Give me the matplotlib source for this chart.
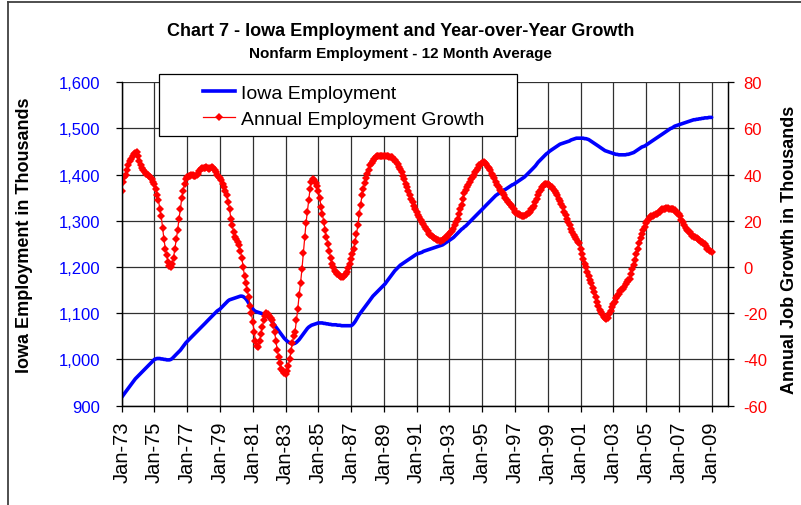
import matplotlib
matplotlib.use("Agg")
import matplotlib.pyplot as plt
import matplotlib.ticker as mticker
from matplotlib.lines import Line2D
from matplotlib.patches import Rectangle
import pandas as pd

plt.rcParams["font.family"] = ["Liberation Sans", "DejaVu Sans"]
plt.rcParams["axes.unicode_minus"] = False

# monthly, Jan-73 .. Jan-09, 12 month average, thousands
employment = [
    918, 922, 926, 930, 934, 938, 942, 946, 950, 954, 958, 961,          # 1973
    964, 967, 970, 973, 976, 979, 982, 985, 988, 991, 994, 997,          # 1974
    1000, 1001, 1002, 1002, 1002, 1001, 1001, 1000, 1000, 999, 999, 999,  # 1975
    1000, 1002, 1005, 1008, 1011, 1014, 1017, 1020, 1024, 1028, 1032, 1036,  # 1976
    1039, 1042, 1045, 1048, 1051, 1054, 1057, 1060, 1063, 1066, 1069, 1072,  # 1977
    1075, 1078, 1081, 1084, 1087, 1090, 1093, 1096, 1099, 1102, 1105, 1107,  # 1978
    1109, 1112, 1115, 1118, 1121, 1124, 1127, 1129, 1130, 1131, 1132, 1133,  # 1979
    1134, 1135, 1136, 1137, 1137, 1136, 1134, 1131, 1127, 1122, 1117, 1113,  # 1980
    1109, 1106, 1104, 1103, 1102, 1101, 1100, 1099, 1098, 1097, 1095, 1093,  # 1981
    1090, 1086, 1082, 1078, 1074, 1070, 1066, 1062, 1058, 1054, 1050, 1046,  # 1982
    1043, 1040, 1038, 1036, 1035, 1034, 1034, 1035, 1037, 1040, 1043, 1047,  # 1983
    1051, 1055, 1059, 1063, 1067, 1070, 1072, 1074, 1075, 1076, 1077, 1078,  # 1984
    1079, 1079, 1079, 1079, 1078, 1078, 1077, 1077, 1076, 1076, 1075, 1075,  # 1985
    1075, 1075, 1074, 1074, 1074, 1073, 1073, 1073, 1073, 1073, 1073, 1073,  # 1986
    1073, 1075, 1078, 1082, 1087, 1092, 1097, 1101, 1105, 1109, 1113, 1117,  # 1987
    1121, 1125, 1129, 1133, 1137, 1140, 1143, 1146, 1149, 1152, 1155, 1158,  # 1988
    1161, 1164, 1168, 1172, 1176, 1180, 1184, 1188, 1192, 1195, 1198, 1201,  # 1989
    1204, 1206, 1208, 1210, 1212, 1214, 1216, 1218, 1220, 1222, 1224, 1226,  # 1990
    1228, 1229, 1230, 1231, 1232, 1234, 1235, 1236, 1237, 1238, 1239, 1240,  # 1991
    1241, 1242, 1243, 1244, 1245, 1246, 1247, 1248, 1250, 1252, 1254, 1256,  # 1992
    1258, 1260, 1262, 1264, 1267, 1270, 1273, 1276, 1279, 1282, 1284, 1287,  # 1993
    1289, 1292, 1295, 1298, 1301, 1304, 1307, 1310, 1313, 1316, 1319, 1322,  # 1994
    1325, 1328, 1331, 1334, 1337, 1340, 1343, 1346, 1349, 1352, 1355, 1357,  # 1995
    1359, 1361, 1363, 1365, 1367, 1368, 1370, 1372, 1374, 1376, 1378, 1379,  # 1996
    1381, 1383, 1385, 1387, 1389, 1391, 1393, 1395, 1398, 1401, 1404, 1407,  # 1997
    1410, 1413, 1416, 1419, 1423, 1427, 1430, 1433, 1436, 1439, 1442, 1445,  # 1998
    1447, 1450, 1452, 1454, 1456, 1458, 1460, 1462, 1464, 1466, 1467, 1468,  # 1999
    1469, 1470, 1471, 1472, 1473, 1475, 1476, 1477, 1478, 1479, 1479, 1479,  # 2000
    1479, 1479, 1479, 1478, 1478, 1477, 1476, 1474, 1472, 1470, 1468, 1466,  # 2001
    1464, 1462, 1460, 1458, 1456, 1454, 1452, 1451, 1450, 1449, 1448, 1447,  # 2002
    1446, 1445, 1444, 1444, 1443, 1443, 1443, 1443, 1443, 1443, 1444, 1444,  # 2003
    1445, 1446, 1447, 1448, 1450, 1452, 1454, 1456, 1458, 1460, 1461, 1462,  # 2004
    1464, 1466, 1468, 1470, 1472, 1474, 1476, 1478, 1480, 1482, 1484, 1486,  # 2005
    1488, 1490, 1492, 1494, 1496, 1498, 1500, 1501, 1503, 1505, 1506, 1507,  # 2006
    1508, 1509, 1510, 1511, 1512, 1513, 1514, 1515, 1516, 1517, 1518, 1519,  # 2007
    1519, 1520, 1520, 1521, 1521, 1522, 1522, 1523, 1523, 1523, 1524, 1524,  # 2008
    1524,                                                                    # 2009
]

# year-over-year change, thousands
growth = [
    33, 37, 39, 40, 42, 44, 46, 47, 48, 49, 49.5, 50,                      # 1973
    48, 46, 44, 43, 42, 41, 40.5, 40, 39.5, 39, 38, 37,                    # 1974
    36, 34, 31, 29, 25, 22, 17, 12, 8, 5, 2, 0.5,                          # 1975
    0, 1.5, 4, 8, 12, 16, 21, 25, 30, 33, 36, 38,                          # 1976
    39, 39.5, 39.5, 40, 40, 39.5, 39.5, 40, 40.5, 41.5, 42.5, 43,          # 1977
    43, 43, 43.5, 43, 42.5, 43, 43.5, 43, 42, 41, 40, 39,                  # 1978
    38.5, 37.5, 36, 34.5, 33, 31, 28, 25, 21, 18, 15, 13,                  # 1979
    12, 11, 9.5, 7, 4, 0, -4, -7, -10, -13, -17, -20,                      # 1980
    -24, -28, -32, -34, -34.5, -32, -29, -26, -23, -21, -20, -20.5,        # 1981
    -21, -22, -23, -25, -28, -32, -36, -39, -41.5, -44, -45, -46,          # 1982
    -46.5, -45, -43, -40, -36.5, -33, -30, -28, -23, -18, -12, -7,         # 1983
    -1, 6, 13, 19, 24, 29, 34, 37, 38, 37.5, 36.5, 35,                     # 1984
    33, 30, 26, 23, 19.5, 16, 13, 10, 7, 4, 1.5, 0,                        # 1985
    -1.5, -2.3, -3, -3.5, -4, -4.4, -4.2, -3.8, -3, -2, -0.5, 1.5,         # 1986
    3.5, 5.5, 8, 11, 14.5, 18, 23, 27, 31, 34, 36.5, 38.5,                 # 1987
    40.5, 42, 44, 45, 46, 47, 47.5, 48, 48, 48, 48.2, 48,                  # 1988
    48, 48, 48.2, 48, 47.8, 47.5, 47.5, 47, 46.5, 45.5, 44.5, 43.5,        # 1989
    42.5, 41, 39.5, 38, 36, 34.5, 33, 31, 29.5, 28, 26.5, 25,              # 1990
    24, 22.5, 21.5, 20.5, 19.5, 18.5, 17.5, 16.5, 15.5, 14.5, 14, 13.5,    # 1991
    13, 12.5, 12, 11.8, 11.5, 11.4, 11.4, 11.5, 12, 12.5, 13, 13.8,        # 1992
    14.3, 15, 15.8, 16.5, 18, 19.5, 21, 23, 25, 27, 29.5, 32,              # 1993
    33.5, 34.5, 35.5, 37, 38, 39, 40, 41, 42, 43, 44, 44.8,                # 1994
    45.2, 45.5, 45, 44.5, 43.5, 43, 42, 40.5, 39.5, 38.5, 37, 35.5,        # 1995
    34.5, 33.5, 33, 32, 31, 30, 29, 28, 27.5, 26.8, 26, 25,                # 1996
    24, 23.5, 23, 22.8, 22.5, 22.3, 22.2, 22.3, 22.5, 22.8, 23.2, 24,      # 1997
    25, 25.5, 26.5, 28, 29.5, 31, 32.5, 33.5, 34.5, 35.5, 36, 36,          # 1998
    36, 35.5, 35, 34.5, 34, 33, 32, 31, 29.5, 28.5, 27.5, 26,              # 1999
    24, 22.5, 21, 19.5, 18, 16.5, 15, 14, 13, 12, 11, 10.5,                # 2000
    8, 5.5, 3.5, 1.5, 0, -2, -4, -5.5, -7, -9, -11, -13,                   # 2001
    -15, -17, -18.5, -19.5, -20.5, -21.5, -22, -22.5, -22, -20.5, -19, -17.5,  # 2002
    -16, -15, -13.5, -12.5, -11.5, -10.5, -10, -9.5, -8.5, -7.5, -6.5, -5.5,   # 2003
    -5, -3, -1, 1, 3, 5.5, 8, 10.5, 12.5, 14.5, 16, 17.5,                  # 2004
    19, 20, 21, 21.5, 22, 22.3, 22.5, 22.8, 23, 23.5, 24, 24.5,            # 2005
    25, 25.2, 25.3, 25.5, 25.5, 25.3, 25.2, 25, 25, 24.5, 24, 23.5,        # 2006
    23, 22, 20.5, 19.5, 18, 17, 16, 15.5, 15, 14.5, 13.5, 13,              # 2007
    12.8, 12.5, 12, 11.5, 11, 10.7, 10.5, 10, 9, 8, 7.5, 7,                # 2008
    6.3,                                                                   # 2009
]

tick_dates = ["1973-01-01", "1975-01-01", "1977-01-01", "1979-01-01", "1981-01-01",
              "1983-01-01", "1985-01-01", "1987-01-01", "1989-01-01", "1991-01-01",
              "1993-01-01", "1995-01-01", "1997-01-01", "1999-01-01", "2001-01-01",
              "2003-01-01", "2005-01-01", "2007-01-01", "2009-01-01"]
tick_labels = ["Jan-73", "Jan-75", "Jan-77", "Jan-79", "Jan-81", "Jan-83", "Jan-85",
               "Jan-87", "Jan-89", "Jan-91", "Jan-93", "Jan-95", "Jan-97", "Jan-99",
               "Jan-01", "Jan-03", "Jan-05", "Jan-07", "Jan-09"]

dates = pd.date_range("1973-01-01", periods=len(employment), freq="MS")

W, H = 801, 506
fig = plt.figure(figsize=(W / 100, H / 100), dpi=100)
ax = fig.add_axes([121.7 / W, 1 - 406.6 / H, (728 - 121.7) / W, (406.6 - 83.3) / H])
ax2 = ax.twinx()

ax.plot(dates, employment, color="#0000FF", lw=2.6, solid_capstyle="round")
ax2.plot(dates, growth, color="#FF0000", lw=0.9, marker="D", ms=4.3, mew=0)

ax.set_xlim(pd.Timestamp("1973-01-01"), pd.Timestamp("2010-01-01"))
ax.set_ylim(900, 1600)
ax2.set_ylim(-60, 80)
ax.set_yticks(range(900, 1601, 100))
ax2.set_yticks(range(-60, 81, 20))
ax.yaxis.set_major_formatter(mticker.StrMethodFormatter("{x:,.0f}"))

ax.set_xticks(pd.to_datetime(tick_dates))
ax.set_xticklabels(tick_labels, rotation=90, fontsize=14.5)

ax.grid(True, color="#303030", lw=0.9)
ax.set_axisbelow(True)

ax.tick_params(axis="y", colors="black", labelcolor="#0000FF", labelsize=12,
               length=4.5, width=0.9, pad=11)
ax2.tick_params(axis="y", colors="black", labelcolor="#FF0000", labelsize=12,
                length=4, width=0.9, pad=7)
ax.tick_params(axis="x", length=4.5, width=0.9, pad=6.5)

for a in (ax, ax2):
    for s in a.spines.values():
        s.set_linewidth(0.9)
        s.set_color("black")
    a.spines["top"].set_visible(False)

fig.text(0.5, 1 - 32 / H, "Chart 7 - Iowa Employment and Year-over-Year Growth",
         ha="center", va="center", fontsize=13, fontweight="bold")
fig.text(0.5, 1 - 54 / H, "Nonfarm Employment - 12 Month Average",
         ha="center", va="center", fontsize=11, fontweight="bold")
fig.text(25 / W, 1 - 235 / H, "Iowa Employment in Thousands", rotation=90,
         ha="center", va="center", fontsize=13, fontweight="bold")
fig.text(790 / W, 1 - 250 / H, "Annual Job Growth in Thousands", rotation=90,
         ha="center", va="center", fontsize=13, fontweight="bold")

# legend box
fig.add_artist(Rectangle((159 / W, 1 - 137 / H), (517 - 159) / W, 62 / H,
                         transform=fig.transFigure, facecolor="white",
                         edgecolor="black", lw=0.9, zorder=4))
handles = [Line2D([], [], color="#0000FF", lw=2.6),
           Line2D([], [], color="#FF0000", lw=0.9, marker="D", ms=4.3, mew=0)]
leg = fig.legend(handles, ["Iowa Employment", "Annual Employment Growth"],
                 loc="center left", bbox_to_anchor=(193 / W, 1 - 107 / H),
                 frameon=False, fontsize=14, borderpad=0, handlelength=1.65,
                 handletextpad=0.3, labelspacing=0.4, numpoints=1)
leg.set_zorder(6)

# outer chart frame (top and left edges visible)
fig.add_artist(Line2D([8 / W, 1], [1 - 3 / H, 1 - 3 / H], transform=fig.transFigure,
                      color="#404040", lw=1.3))
fig.add_artist(Line2D([8 / W, 8 / W], [0, 1 - 3 / H], transform=fig.transFigure,
                      color="#404040", lw=1.3))

fig.savefig("out.png", dpi=100)
